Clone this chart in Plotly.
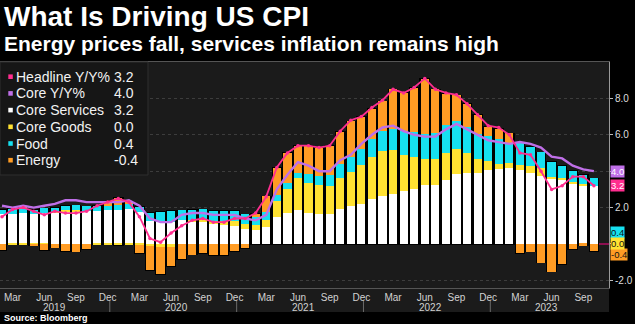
import pandas as pd
import plotly.graph_objects as go

# Monthly observations, Feb 2019 - Oct 2023
months = pd.date_range("2019-02-01", periods=57, freq="MS")

headline = [1.5, 1.9, 2.0, 1.8, 1.6, 1.8, 1.7, 1.7, 1.8, 2.1, 2.3,
            2.5, 2.3, 1.5, 0.3, 0.1, 0.6, 1.0, 1.3, 1.4, 1.2, 1.2, 1.4,
            1.4, 1.7, 2.6, 4.2, 5.0, 5.4, 5.4, 5.3, 5.4, 6.2, 6.8, 7.0,
            7.5, 7.9, 8.5, 8.3, 8.6, 9.1, 8.5, 8.3, 8.2, 7.7, 7.1, 6.5,
            6.4, 6.0, 5.0, 4.9, 4.0, 3.0, 3.2, 3.7, 3.7, 3.2]

core = [2.1, 2.0, 2.1, 2.0, 2.1, 2.2, 2.4, 2.4, 2.3, 2.3, 2.3,
        2.3, 2.4, 2.1, 1.4, 1.2, 1.2, 1.6, 1.7, 1.7, 1.6, 1.6, 1.6,
        1.4, 1.3, 1.6, 3.0, 3.8, 4.5, 4.3, 4.0, 4.0, 4.6, 4.9, 5.5,
        6.0, 6.4, 6.5, 6.2, 6.0, 5.9, 5.9, 6.3, 6.6, 6.3, 6.0, 5.7,
        5.6, 5.5, 5.6, 5.5, 5.3, 4.8, 4.7, 4.3, 4.1, 4.0]

core_services = [1.65, 1.65, 1.70, 1.62, 1.68, 1.72, 1.78, 1.80, 1.80, 1.83, 1.85,
                 1.88, 1.90, 1.75, 1.25, 1.22, 1.20, 1.30, 1.25, 1.20, 1.10, 1.05, 1.00,
                 0.80, 0.77, 0.95, 1.48, 1.70, 1.85, 1.72, 1.67, 1.67, 1.94, 2.07, 2.22,
                 2.49, 2.62, 2.77, 2.89, 3.04, 3.22, 3.22, 3.53, 3.83, 3.90, 3.92, 4.05,
                 4.10, 4.16, 4.07, 3.88, 3.74, 3.60, 3.52, 3.35, 3.24, 3.20]

core_goods = [0.00, -0.02, -0.02, -0.04, -0.02, 0.02, 0.08, 0.07, 0.00, -0.01, -0.03,
              -0.05, -0.02, -0.07, -0.13, -0.17, -0.15, 0.00, 0.08, 0.15, 0.17, 0.20, 0.28,
              0.30, 0.27, 0.35, 0.86, 1.34, 1.75, 1.65, 1.55, 1.50, 1.69, 1.89, 2.10,
              2.29, 2.47, 2.38, 2.01, 1.74, 1.47, 1.47, 1.49, 1.41, 1.10, 0.77, 0.49,
              0.31, 0.27, 0.27, 0.42, 0.42, 0.10, 0.08, 0.05, 0.06, 0.00]

food = [0.23, 0.27, 0.26, 0.27, 0.27, 0.26, 0.24, 0.25, 0.27, 0.28, 0.24,
        0.26, 0.27, 0.27, 0.47, 0.55, 0.60, 0.55, 0.55, 0.55, 0.55, 0.55, 0.53,
        0.53, 0.45, 0.47, 0.35, 0.33, 0.30, 0.49, 0.52, 0.63, 0.78, 0.82, 0.88,
        0.97, 1.10, 1.19, 1.29, 1.37, 1.35, 1.43, 1.50, 1.50, 1.43, 1.37, 1.39,
        1.34, 1.14, 1.20, 1.05, 0.88, 0.82, 0.69, 0.60, 0.49, 0.40]

energy = [-0.33, 0.00, 0.06, -0.05, -0.33, -0.20, -0.40, -0.42, -0.29, 0.00, 0.24,
          0.41, 0.15, -0.45, -1.29, -1.50, -1.05, -0.85, -0.58, -0.50, -0.62, -0.60, -0.41,
          -0.22, 0.18, 0.85, 1.50, 1.63, 1.50, 1.52, 1.53, 1.58, 1.74, 1.96, 1.78,
          1.69, 1.65, 2.16, 2.11, 2.44, 3.04, 2.38, 1.74, 1.43, 1.28, 1.04, 0.50,
          0.59, 0.51, -0.51, -0.42, -1.03, -1.52, -1.10, -0.29, -0.09, -0.40]

y_ticks = [-2, 0, 2, 4, 6, 8]

C_HEAD = "#ff2d8f"
C_CORE = "#bf6fe8"
C_SERV = "#ffffff"
C_GOODS = "#ffe232"
C_FOOD = "#16e0f0"
C_ENERGY = "#ff9c24"
FONT = "Liberation Sans, Arial, sans-serif"

# canvas geometry (pixels)
W, H = 635, 324
ML, MR, MT, MB = 0, 26, 62, 36
PW, PH = W - ML - MR, H - MT - MB


def px(xp):
    return (xp - ML) / PW


def py(yp):
    return (H - MB - yp) / PH


x = list(range(len(months)))
x_range = [-0.19, 57.43]
y_range = [-2.42, 10.0]

components = [
    ("Core Services", core_services, C_SERV),
    ("Core Goods", core_goods, C_GOODS),
    ("Food", food, C_FOOD),
    ("Energy", energy, C_ENERGY),
]

fig = go.Figure()

# black backing behind every month's stack, giving the dark gutters between bars
pos_tot = [sum(max(c[1][i], 0) for c in components) for i in x]
neg_tot = [sum(min(c[1][i], 0) for c in components) for i in x]
fig.add_trace(go.Bar(
    x=x, y=[p - n + 0.08 for p, n in zip(pos_tot, neg_tot)],
    base=[n - 0.04 for n in neg_tot], width=1.0,
    marker=dict(color="#000000", line_width=0),
    xaxis="x", yaxis="y", hoverinfo="skip", showlegend=False,
))

for name, vals, color in components:
    fig.add_trace(go.Bar(
        x=x, y=vals, name=name, width=0.78,
        marker=dict(color=color, line_width=0),
        xaxis="x2", yaxis="y", showlegend=False,
    ))

fig.add_trace(go.Scatter(
    x=x, y=core, name="Core Y/Y%", mode="lines",
    line=dict(color=C_CORE, width=2.4),
    xaxis="x2", yaxis="y", showlegend=False,
))
fig.add_trace(go.Scatter(
    x=x, y=headline, name="Headline Y/Y%", mode="lines+markers",
    line=dict(color=C_HEAD, width=1.8), marker=dict(color=C_HEAD, size=3.5),
    xaxis="x2", yaxis="y", showlegend=False,
))

# quarterly month ticks and year labels
tick_idx = [i for i, m in enumerate(months) if m.month in (3, 6, 9, 12)]
tick_txt = [months[i].strftime("%b") for i in tick_idx]

shapes = []
annotations = []

# band under the plot holding the date labels
shapes.append(dict(type="rect", xref="paper", yref="paper", x0=0, x1=1,
                   y0=py(312), y1=0, fillcolor="#1b1b1b", line_width=0, layer="below"))

years = sorted(set(m.year for m in months))
for yr in years:
    idx = [i for i, m in enumerate(months) if m.year == yr]
    annotations.append(dict(xref="x", yref="paper", x=(idx[0] + idx[-1]) / 2, y=py(307.5),
                            text=str(yr), showarrow=False, xanchor="center", yanchor="middle",
                            font=dict(family=FONT, size=10, color="#d2d2d2")))
    if months[idx[-1]].month == 12:
        xs = idx[-1] + 0.2
        shapes.append(dict(type="line", xref="x", yref="paper", x0=xs, x1=xs,
                           y0=py(301), y1=py(312), line=dict(color="#6a6a6a", width=1)))

# legend panel
shapes.append(dict(type="rect", xref="paper", yref="paper", x0=px(0), x1=px(148),
                   y0=py(175), y1=1, fillcolor="#161616",
                   line=dict(color="#2e2e2e", width=1), layer="above"))
legend_rows = [
    ("Headline Y/Y%", headline[-1], C_HEAD),
    ("Core Y/Y%", core[-1], C_CORE),
    ("Core Services", core_services[-1], C_SERV),
    ("Core Goods", core_goods[-1], C_GOODS),
    ("Food", food[-1], C_FOOD),
    ("Energy", energy[-1], C_ENERGY),
]
for k, (name, val, color) in enumerate(legend_rows):
    yc = 76.7 + k * 16.7
    shapes.append(dict(type="rect", xref="paper", yref="paper",
                       x0=px(8.3), x1=px(12.8), y0=py(yc + 2.3), y1=py(yc - 2.3),
                       fillcolor=color, line_width=0, layer="above"))
    annotations.append(dict(xref="paper", yref="paper", x=px(13.5), y=py(yc), text=name,
                            showarrow=False, xanchor="left", yanchor="middle",
                            font=dict(family=FONT, size=14, color="#f2f2f2")))
    annotations.append(dict(xref="paper", yref="paper", x=px(111.5), y=py(yc), text=f"{val:.1f}",
                            showarrow=False, xanchor="left", yanchor="middle",
                            font=dict(family=FONT, size=14, color="#f2f2f2")))

# last-value tags on the right axis (drawn in this order so yellow sits on top)
tags = [
    (food[-1], C_FOOD, "#111111", 4),
    (energy[-1], C_ENERGY, "#111111", -3),
    (core_goods[-1], C_GOODS, "#111111", 0),
    (core[-1], C_CORE, "#ffffff", 0),
    (headline[-1], C_HEAD, "#ffffff", 0),
]
for val, bg, fg, shift in tags:
    annotations.append(dict(xref="paper", yref="y", x=1, y=val, text=f"{val:.1f}",
                            showarrow=False, xanchor="left", yanchor="middle",
                            xshift=1, yshift=shift, bgcolor=bg, borderpad=0,
                            font=dict(family=FONT, size=9.5, color=fg)))

# titles and source
annotations.append(dict(xref="paper", yref="paper", x=px(2), y=py(16.5), text="What Is Driving US CPI",
                        showarrow=False, xanchor="left", yanchor="middle",
                        font=dict(family=FONT, size=28, color="#ffffff", weight="bold")))
annotations.append(dict(xref="paper", yref="paper", x=px(2), y=py(43),
                        text="Energy prices fall, services inflation remains high",
                        showarrow=False, xanchor="left", yanchor="middle",
                        font=dict(family=FONT, size=21, color="#ffffff", weight="bold")))
annotations.append(dict(xref="paper", yref="paper", x=px(2), y=py(318), text="Source: Bloomberg",
                        showarrow=False, xanchor="left", yanchor="middle",
                        font=dict(family=FONT, size=9, color="#ffffff", weight="bold")))

# axis labels that sit under a value tag are left blank
y_ticktext = ["" if v in (0, 4) else f"{v:.1f}" for v in y_ticks]

fig.update_layout(
    width=W, height=H,
    margin=dict(l=ML, r=MR, t=MT, b=MB, pad=0),
    paper_bgcolor="#000000", plot_bgcolor="#1b1b1b",
    barmode="relative", bargap=0,
    showlegend=False,
    font=dict(family=FONT, color="#d2d2d2"),
    xaxis=dict(range=x_range, tickvals=tick_idx, ticktext=tick_txt, ticks="",
               tickfont=dict(size=10, color="#d2d2d2"), showgrid=False, zeroline=False,
               showline=True, linecolor="#555555", linewidth=1, mirror=True,
               fixedrange=True),
    xaxis2=dict(range=x_range, overlaying="x", visible=False, fixedrange=True),
    yaxis=dict(range=y_range, side="right", tickvals=y_ticks, ticktext=y_ticktext,
               tickfont=dict(size=10, color="#dddddd"), ticks="outside", ticklen=3,
               tickcolor="#bbbbbb", showline=True, linecolor="#9a9a9a", linewidth=1,
               showgrid=True, gridcolor="#3d3d3d", griddash="dot", gridwidth=1,
               zeroline=True, zerolinecolor="#8c0f50", zerolinewidth=1.5,
               fixedrange=True),
    shapes=shapes, annotations=annotations,
)

fig.write_html("out.html")
